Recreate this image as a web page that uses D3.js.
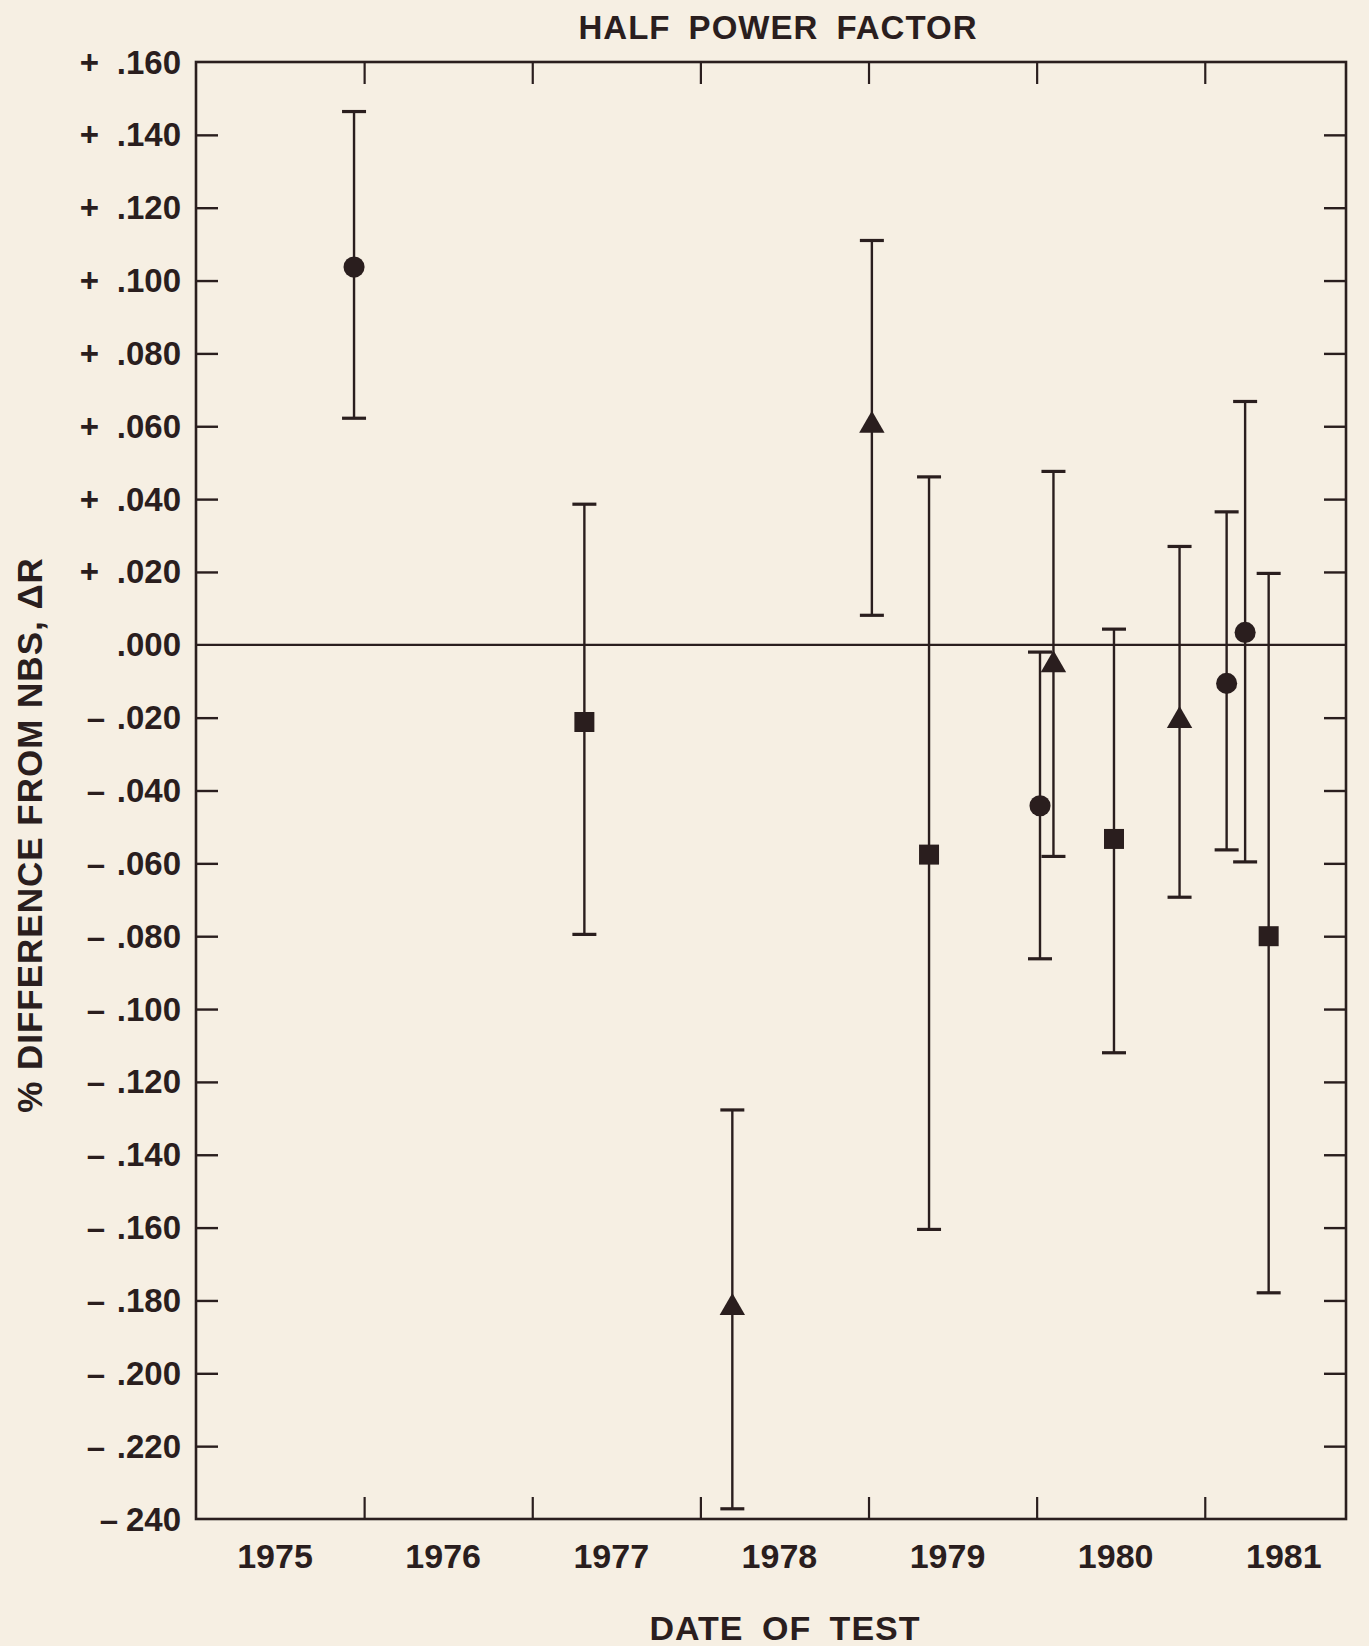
<!DOCTYPE html>
<html>
<head>
<meta charset="utf-8">
<script src="https://cdn.jsdelivr.net/npm/d3@7"></script>
<style>
  html, body { margin: 0; padding: 0; background: #f6efe3; }
  svg { display: block; }
  text { font-family: "Liberation Sans", Arial, Helvetica, sans-serif; font-weight: bold; fill: #2a1e1e; }
</style>
</head>
<body>
<svg id="chart" width="1369" height="1646"></svg>
<script>
// ---- data ----
const dates   = [1975.94, 1977.31, 1978.19, 1979.02, 1979.36, 1980.02, 1980.10, 1980.46, 1980.85, 1981.13, 1981.24, 1981.38];
const values  = [0.1037, -0.0212, -0.1820, 0.0602, -0.0576, -0.0442, -0.0055, -0.0533, -0.0208, -0.0106, 0.0034, -0.0800];
const highs   = [0.1464, 0.0386, -0.1277, 0.1110, 0.0461, -0.0020, 0.0476, 0.0043, 0.0270, 0.0365, 0.0668, 0.0196];
const lows    = [0.0622, -0.0795, -0.2372, 0.0081, -0.1605, -0.0862, -0.0581, -0.1120, -0.0693, -0.0563, -0.0596, -0.1779];
const shapes  = ["circle", "square", "triangle", "triangle", "square", "circle", "triangle", "square", "triangle", "circle", "circle", "square"];
const yearLabels = ["1975", "1976", "1977", "1978", "1979", "1980", "1981"];
const yTickValues = [0.16, 0.14, 0.12, 0.10, 0.08, 0.06, 0.04, 0.02, 0.0, -0.02, -0.04, -0.06, -0.08, -0.10, -0.12, -0.14, -0.16, -0.18, -0.20, -0.22, -0.24];
const yTickSigns  = ["+", "+", "+", "+", "+", "+", "+", "+", "", "–", "–", "–", "–", "–", "–", "–", "–", "–", "–", "–", "–"];
const yTickLabels = [".160", ".140", ".120", ".100", ".080", ".060", ".040", ".020", ".000", ".020", ".040", ".060", ".080", ".100", ".120", ".140", ".160", ".180", ".200", ".220", "240"];
const title = "HALF POWER FACTOR";
const xTitle = "DATE OF TEST";
const yTitle = "% DIFFERENCE FROM NBS, ΔR";

// ---- layout ----
const ink = "#2a1e1e";
const L = 196, R = 1346, T = 62, B = 1519;
const svg = d3.select("#chart");

const x = d3.scaleLinear().domain([1975, 1981.84]).range([L, R]);
const y = d3.scaleLinear().domain([-0.24, 0.16]).range([B, T]);

// frame
svg.append("rect").attr("x", L).attr("y", T).attr("width", R - L).attr("height", B - T)
  .attr("fill", "none").attr("stroke", ink).attr("stroke-width", 2.6);

const tickLen = 22;
const yearBounds = d3.range(1976, 1982);

// x axis ticks (bottom pointing up, top pointing down)
const xAxisB = d3.axisBottom(x).tickValues(yearBounds).tickSize(-tickLen).tickFormat("");
svg.append("g").attr("transform", `translate(0,${B})`).call(xAxisB)
  .call(g => g.select(".domain").remove())
  .call(g => g.selectAll("line").attr("stroke", ink).attr("stroke-width", 2.2));
const xAxisT = d3.axisTop(x).tickValues(yearBounds).tickSize(-tickLen).tickFormat("");
svg.append("g").attr("transform", `translate(0,${T})`).call(xAxisT)
  .call(g => g.select(".domain").remove())
  .call(g => g.selectAll("line").attr("stroke", ink).attr("stroke-width", 2.2));

// year labels centred in each year interval
svg.append("g").selectAll("text").data(yearLabels).join("text")
  .attr("x", d => x(+d + 0.47))
  .attr("y", 1556)
  .attr("text-anchor", "middle")
  .attr("dominant-baseline", "central")
  .attr("font-size", 34)
  .text(d => d);

// y ticks: left (pointing right) and right (pointing left)
const innerY = yTickValues.filter(v => v < 0.159 && v > -0.239 && Math.abs(v) > 1e-9);
const yAxisL = d3.axisLeft(y).tickValues(innerY).tickSize(-tickLen).tickFormat("");
svg.append("g").attr("transform", `translate(${L},0)`).call(yAxisL)
  .call(g => g.select(".domain").remove())
  .call(g => g.selectAll("line").attr("stroke", ink).attr("stroke-width", 2.4));
const yAxisR = d3.axisRight(y).tickValues(innerY).tickSize(-tickLen).tickFormat("");
svg.append("g").attr("transform", `translate(${R},0)`).call(yAxisR)
  .call(g => g.select(".domain").remove())
  .call(g => g.selectAll("line").attr("stroke", ink).attr("stroke-width", 2.4));

// y labels: number right-aligned, sign set off to the left
const yl = svg.append("g");
yl.selectAll("text.num").data(yTickValues).join("text").attr("class", "num")
  .attr("x", 181)
  .attr("y", d => y(d))
  .attr("text-anchor", "end")
  .attr("dominant-baseline", "central")
  .attr("font-size", 33)
  .text((d, i) => yTickLabels[i]);
yl.selectAll("text.sign").data(yTickValues).join("text").attr("class", "sign")
  .attr("x", (d, i) => !yTickLabels[i].startsWith(".") ? 118 : (yTickSigns[i] === "+" ? 99 : 105))
  .attr("y", d => y(d))
  .attr("text-anchor", "end")
  .attr("dominant-baseline", "central")
  .attr("font-size", 33)
  .text((d, i) => yTickSigns[i]);

// zero line
svg.append("line").attr("x1", L).attr("x2", R).attr("y1", y(0)).attr("y2", y(0))
  .attr("stroke", ink).attr("stroke-width", 2.2);

// error bars
const cap = 12;
const pts = dates.map((d, i) => ({ d, v: values[i], hi: highs[i], lo: lows[i], s: shapes[i] }));
const eb = svg.append("g").attr("stroke", ink).attr("stroke-width", 2.4);
eb.selectAll("line.v").data(pts).join("line").attr("class", "v")
  .attr("x1", p => x(p.d)).attr("x2", p => x(p.d))
  .attr("y1", p => y(p.hi)).attr("y2", p => y(p.lo));
eb.selectAll("line.h").data(pts).join("line").attr("class", "h")
  .attr("x1", p => x(p.d) - cap).attr("x2", p => x(p.d) + cap)
  .attr("y1", p => y(p.hi)).attr("y2", p => y(p.hi)).attr("stroke-width", 3.2);
eb.selectAll("line.l").data(pts).join("line").attr("class", "l")
  .attr("x1", p => x(p.d) - cap).attr("x2", p => x(p.d) + cap)
  .attr("y1", p => y(p.lo)).attr("y2", p => y(p.lo)).attr("stroke-width", 3.2);

// markers
const symType = { circle: d3.symbolCircle, square: d3.symbolSquare, triangle: d3.symbolTriangle };
const symSize = { circle: 350, square: 400, triangle: 280 };
svg.append("g").selectAll("path").data(pts).join("path")
  .attr("transform", p => `translate(${x(p.d)},${y(p.v)})`)
  .attr("d", p => d3.symbol().type(symType[p.s]).size(symSize[p.s])())
  .attr("fill", ink);

// titles
svg.append("text").attr("x", 778).attr("y", 27).attr("text-anchor", "middle")
  .attr("dominant-baseline", "central").attr("font-size", 33)
  .attr("letter-spacing", 1).attr("word-spacing", 8).text(title);
svg.append("text").attr("x", 785).attr("y", 1628).attr("text-anchor", "middle")
  .attr("dominant-baseline", "central").attr("font-size", 34)
  .attr("letter-spacing", 1).attr("word-spacing", 8).text(xTitle);
svg.append("text").attr("transform", "translate(29,835) rotate(-90)")
  .attr("text-anchor", "middle").attr("dominant-baseline", "central")
  .attr("font-size", 35).attr("letter-spacing", 1).text(yTitle);
</script>
</body>
</html>
